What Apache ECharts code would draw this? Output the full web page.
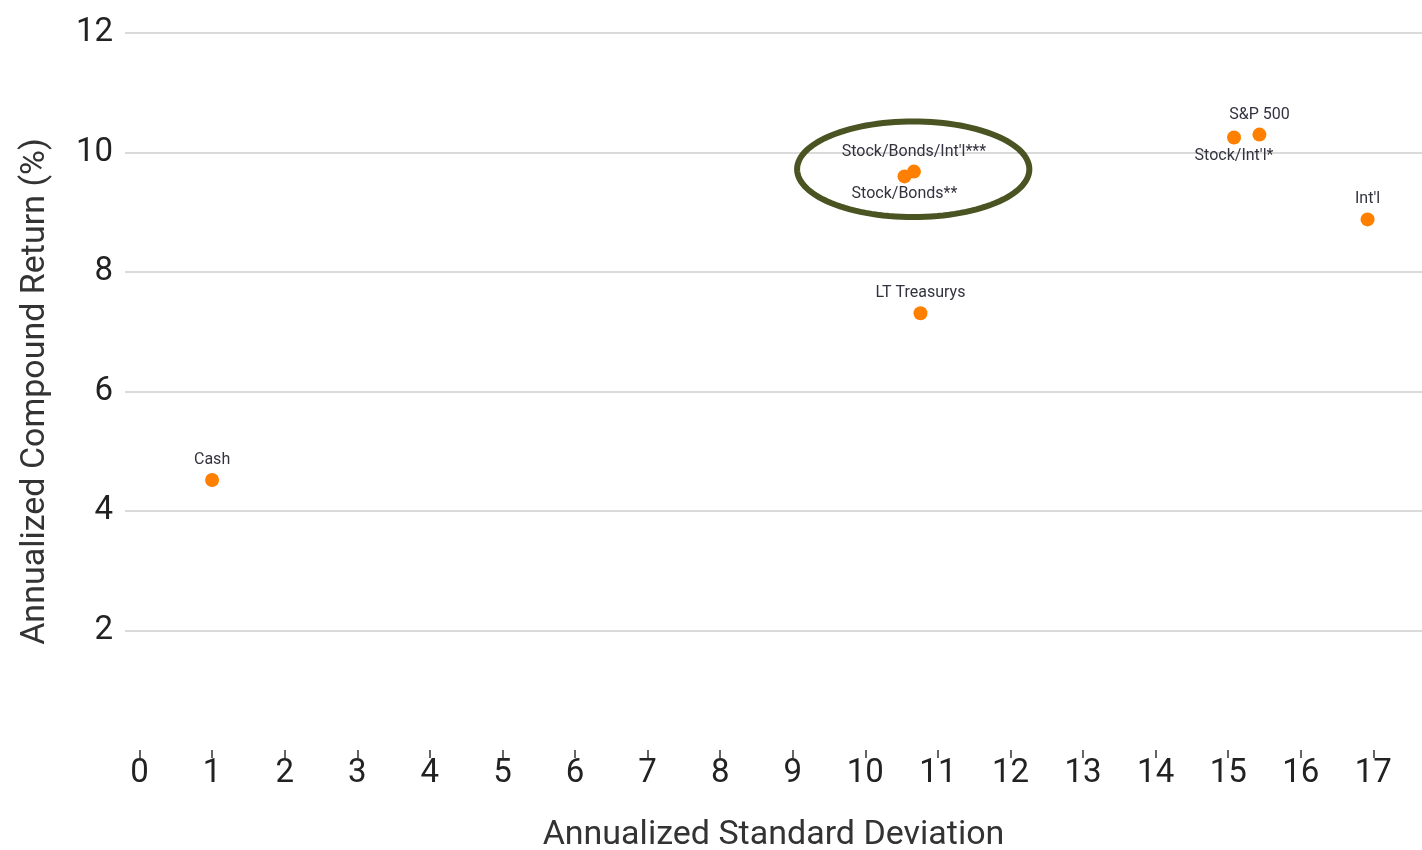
<!DOCTYPE html>
<html>
<head>
<meta charset="utf-8">
<script src="https://cdn.jsdelivr.net/npm/echarts@6/dist/echarts.min.js"></script>
<style>
  html, body { margin: 0; padding: 0; background: #fff; }
  #chart { width: 1422px; height: 850px; }
</style>
</head>
<body>
<div id="chart"></div>
<script>
// data
const names = ['Cash', 'LT Treasurys', 'Stock/Bonds**', "Stock/Bonds/Int'l***", "Stock/Int'l*", 'S&P 500', "Int'l"];
const stdDev = [1.0, 10.76, 10.54, 10.67, 15.08, 15.43, 16.92];
const compoundReturn = [4.52, 7.31, 9.6, 9.68, 10.25, 10.3, 8.88];
const xTicks = [0, 1, 2, 3, 4, 5, 6, 7, 8, 9, 10, 11, 12, 13, 14, 15, 16, 17];
const yTicks = [2, 4, 6, 8, 10, 12];

// highlight ring around the two blended portfolios (data units)
const ringCenter = [10.66, 9.72];
const ringRadius = [1.6, 0.8];

// labels that sit under their dot
const labelBelow = ['Stock/Bonds**', "Stock/Int'l*"];

const chart = echarts.init(document.getElementById('chart'));

const points = names.map((n, i) => ({
  name: n,
  value: [stdDev[i], compoundReturn[i]],
  label: { position: labelBelow.includes(n) ? 'bottom' : 'top', distance: labelBelow.includes(n) ? 3 : 5 }
}));

const option = {
  animation: false,
  textStyle: { fontFamily: 'Roboto, sans-serif' },
  grid: { left: 125, right: 0, top: 33, bottom: 100, outerBoundsMode: 'none', containLabel: false },
  xAxis: {
    type: 'value',
    min: -0.2,
    max: 17.67,
    name: 'Annualized Standard Deviation',
    nameLocation: 'middle',
    nameGap: 68,
    nameTextStyle: { fontSize: 34, color: '#333' },
    axisLine: { show: false },
    axisTick: { show: true, customValues: xTicks, length: 8, lineStyle: { color: '#333', width: 1.5 } },
    axisLabel: { customValues: xTicks, fontSize: 33, color: '#222', margin: 7 },
    splitLine: { show: false }
  },
  yAxis: {
    type: 'value',
    min: 0,
    max: 12,
    interval: 2,
    name: 'Annualized Compound Return (%)',
    nameLocation: 'middle',
    nameGap: 73,
    nameTextStyle: { fontSize: 34, color: '#333' },
    axisLine: { show: false },
    axisTick: { show: false },
    axisLabel: {
      customValues: yTicks, fontSize: 33, color: '#222', margin: 12
    },
    splitLine: { show: true, showMinLine: false, lineStyle: { color: '#dadada', width: 2 } }
  },
  series: [{
    type: 'scatter',
    symbolSize: 14,
    itemStyle: { color: '#ff8000', opacity: 1 },
    label: {
      show: true,
      formatter: '{b}',
      fontSize: 16,
      color: '#333340'
    },
    data: points
  }]
};
chart.setOption(option);

// draw the ring in pixel space from the data-space center and radii
const c = chart.convertToPixel({ gridIndex: 0 }, ringCenter);
const ex = chart.convertToPixel({ gridIndex: 0 }, [ringCenter[0] + ringRadius[0], ringCenter[1] + ringRadius[1]]);
const rx = ex[0] - c[0];
const ry = c[1] - ex[1];
const ringPts = [];
for (let k = 0; k < 120; k++) {
  const t = k / 120 * Math.PI * 2;
  ringPts.push([c[0] + rx * Math.cos(t), c[1] + ry * Math.sin(t)]);
}
chart.setOption({
  graphic: [{
    type: 'polygon',
    shape: { points: ringPts },
    style: { fill: null, stroke: '#4a5322', lineWidth: 6 },
    z: 10
  }]
});
</script>
</body>
</html>
